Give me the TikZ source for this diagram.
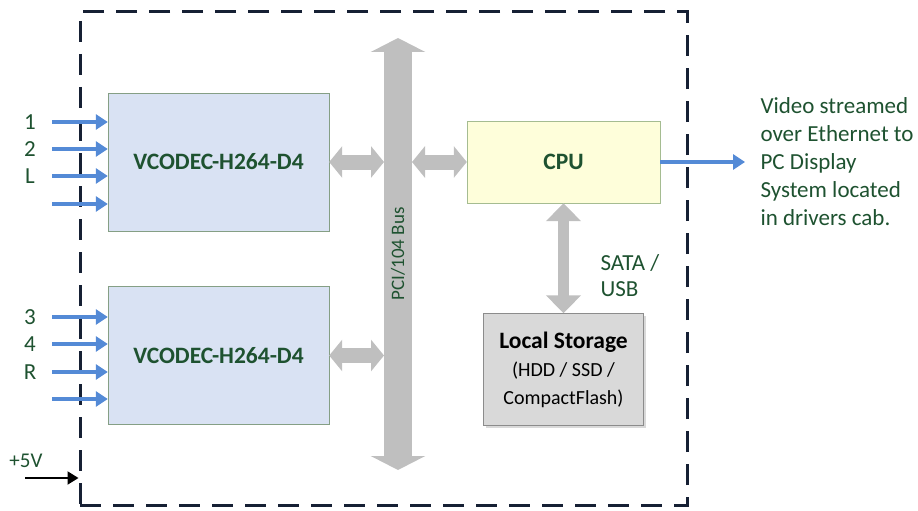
\documentclass[tikz,border=0pt]{standalone}
\usepackage{fontspec}
\setmainfont{Carlito}
\usepackage{xcolor}
\usetikzlibrary{arrows.meta,calc,shadows}
\definecolor{txtgreen}{RGB}{30,82,48}
\definecolor{busgray}{RGB}{191,191,191}
\definecolor{flowblue}{RGB}{84,138,214}
\definecolor{framenavy}{RGB}{22,32,52}
\newcommand{\pt}[1]{\fontsize{#1}{28}\selectfont}

\begin{document}
\begin{tikzpicture}[x=1pt,y=-1pt]
  \tikzset{vbox/.style={draw=black!35!green!20!gray!80,fill={rgb,255:red,217;green,226;blue,243},
             minimum width=221,minimum height=138,font=\pt{23.5}\bfseries,text=txtgreen},
           cpubox/.style={draw={rgb,255:red,165;green,188;blue,145},fill={rgb,255:red,254;green,254;blue,218},
             minimum width=193,minimum height=82,font=\pt{23.5}\bfseries,text=txtgreen},
           storebox/.style={draw=black!45,fill={rgb,255:red,217;green,217;blue,217},
             minimum width=160,minimum height=112,align=center,font=\pt{20},
             drop shadow={shadow xshift=2pt,shadow yshift=-2pt,fill=black!25,opacity=.6}},
           board/.style={draw=framenavy,line width=3,dash pattern=on 21pt off 12pt,
             minimum width=607,minimum height=493},
           lbl/.style={text=txtgreen,font=\pt{23}},
           inarrow/.style={draw=flowblue,line width=3.2,-{Triangle[width=15,length=12]}},
           pwrarrow/.style={draw=black,line width=2,-{Triangle[width=13,length=11]}},
           link/.style={draw=busgray,line width=15,{Triangle[width=31,length=13]}-{Triangle[width=31,length=13]}},
           vlink/.style={draw=busgray,line width=11,{Triangle[width=34,length=18]}-{Triangle[width=34,length=18]}},
           bus/.style={draw=busgray,line width=28,{Triangle[width=54,length=14]}-{Triangle[width=54,length=14]}}}
  \useasboundingbox (0,0) rectangle (918,511);

  \node[board] (board) at (383.5,258.5) {};
  \node[vbox] (enc1) at (218.5,162) {VCODEC-H264-D4};
  \node[vbox] (enc2) at (218.5,355.5) {VCODEC-H264-D4};
  \node[cpubox] (cpu) at (563.5,162) {CPU};
  \node[storebox] (store) at (563.5,369.5) {{\pt{23.5}\bfseries Local Storage}\\(HDD / SSD /\\CompactFlash)};

  \coordinate (bustop) at (398,38);
  \coordinate (busbot) at (398,470);
  \coordinate (busL) at (384,0);
  \coordinate (busR) at (412,0);
  \draw[bus] (busbot) -- node[sloped,text=txtgreen,font=\pt{19}] (buslbl) {PCI/104 Bus} (bustop);
  \draw[link] (enc1.east) -- (enc1.east -| busL);
  \draw[link] (enc2.east) -- (enc2.east -| busL);
  \draw[link] (cpu.west -| busR) -- (cpu.west);
  \draw[vlink] (cpu.south) -- (store.north);
  \node[lbl,anchor=west,align=left,font=\fontsize{23}{26}\selectfont] (satalbl) at (597,276) {SATA /\\USB};

  \foreach \y/\lab [count=\i] in {122/1,149/2,176/L,204/{}} {
    \coordinate (a\i) at (52,\y);
    \draw[inarrow] (a\i) -- (a\i -| enc1.west);
    \node[lbl] (ain\i) at (30,\y) {\lab};
  }
  \foreach \y/\lab [count=\i] in {317/3,344/4,372/R,399/{}} {
    \coordinate (b\i) at (52,\y);
    \draw[inarrow] (b\i) -- (b\i -| enc2.west);
    \node[lbl] (bin\i) at (30,\y) {\lab};
  }

  \coordinate (out) at (745,162);
  \draw[inarrow] (cpu.east) -- (out);
  \node[lbl,anchor=west,align=left] (dest) at (757,162)
    {Video streamed\\over Ethernet to\\PC Display\\System located\\in drivers cab.};

  \coordinate (pwr) at (25,478);
  \draw[pwrarrow] (pwr) -- (pwr -| board.west);
  \node[lbl,font=\pt{21}] (pwrlbl) at (26,461) {+5V};
\end{tikzpicture}
\end{document}
